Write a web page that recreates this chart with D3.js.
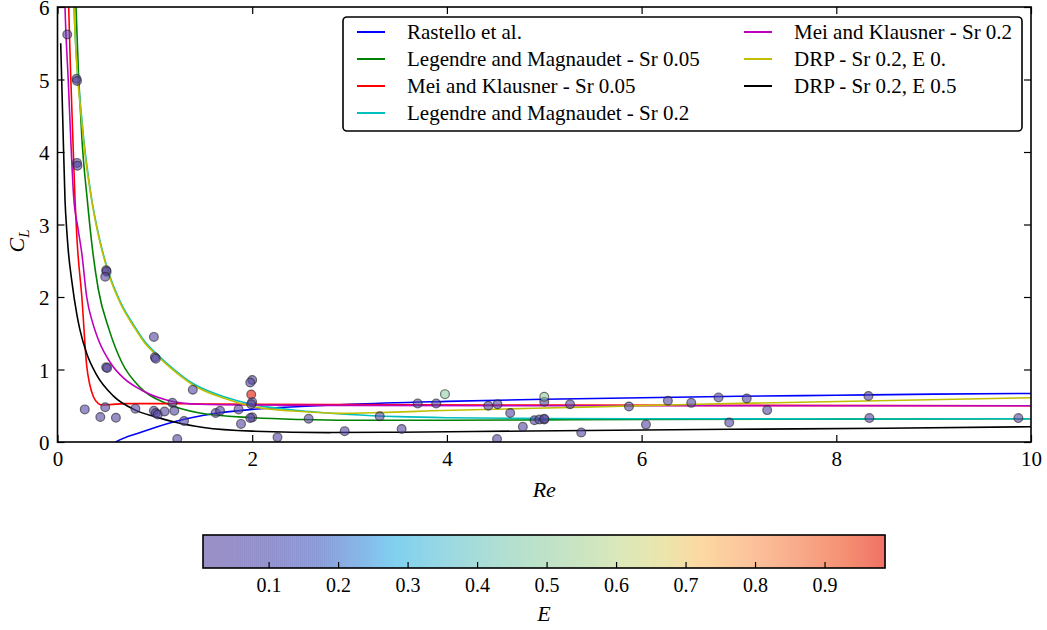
<!DOCTYPE html>
<html>
<head>
<meta charset="utf-8">
<script src="https://cdn.jsdelivr.net/npm/d3@7"></script>
<style>
    body { margin: 0; background: #fff; }
    text { font-family: 'Liberation Serif' !important; }
</style>
</head>
<body>
<div id="chart"></div>
<script>
// measured points: Reynolds number, lift coefficient, E
var ptRe = [0.10, 0.195, 0.20, 0.20, 0.205, 0.50, 0.505, 0.49, 0.99, 1.0, 1.01, 0.50, 0.51, 1.39,
    0.28, 0.49, 0.44, 0.60, 0.80, 0.99, 1.01, 1.03, 1.10, 1.18, 1.20, 1.30, 1.23, 1.625, 1.67,
    1.86, 1.885, 2.00, 1.98, 1.99, 2.00, 1.99, 2.00, 1.98, 2.26, 2.58, 2.95, 3.31, 3.535, 3.70,
    3.89, 3.98, 4.425, 4.52, 4.515, 4.65, 4.78, 4.90, 4.95, 5.00, 5.00, 5.00, 5.00, 5.265, 5.38,
    5.87, 6.045, 6.27, 6.51, 6.79, 6.90, 7.08, 7.29, 8.33, 8.34, 9.87];
var ptCL = [5.62, 5.01, 4.98, 3.85, 3.81, 2.37, 2.35, 2.28, 1.45, 1.17, 1.15, 1.03, 1.02, 0.72,
    0.45, 0.48, 0.345, 0.335, 0.46, 0.43, 0.40, 0.38, 0.42, 0.54, 0.43, 0.29, 0.04, 0.40, 0.43,
    0.45, 0.25, 0.855, 0.82, 0.655, 0.55, 0.52, 0.34, 0.33, 0.065, 0.32, 0.15, 0.355, 0.18, 0.53,
    0.53, 0.66, 0.50, 0.52, 0.04, 0.40, 0.21, 0.30, 0.31, 0.31, 0.32, 0.555, 0.625, 0.52, 0.13,
    0.49, 0.24, 0.57, 0.54, 0.615, 0.27, 0.60, 0.44, 0.635, 0.33, 0.33];
var ptE = [0.02, 0.03, 0.01, 0.02, 0.04, 0.02, 0.03, 0.01, 0.03, 0.02, 0.04, 0.02, 0.03, 0.04,
    0.05, 0.03, 0.02, 0.04, 0.03, 0.02, 0.03, 0.01, 0.04, 0.03, 0.02, 0.05, 0.03, 0.02, 0.04,
    0.03, 0.02, 0.03, 0.02, 0.987, 0.03, 0.02, 0.04, 0.02, 0.03, 0.02, 0.04, 0.03, 0.02, 0.03,
    0.02, 0.49, 0.03, 0.02, 0.04, 0.03, 0.02, 0.03, 0.02, 0.04, 0.03, 0.02, 0.50, 0.03, 0.02,
    0.04, 0.03, 0.02, 0.03, 0.02, 0.04, 0.03, 0.02, 0.03, 0.02, 0.0056];

// model curves
var rastelloRe = [0.45, 0.6, 0.85, 1.2, 1.6, 2.0, 2.5, 3, 4, 5, 6, 7, 8, 9, 10];
var rastelloCL = [-0.15, 0.0, 0.13, 0.28, 0.39, 0.45, 0.49, 0.52, 0.56, 0.59, 0.61, 0.63, 0.645, 0.66, 0.67];
var legendre05Re = [0.17, 0.19, 0.25, 0.306, 0.36, 0.42, 0.53, 0.66, 0.85, 1.12, 1.46, 2.0, 2.5, 3, 4, 5, 6, 8, 10];
var legendre05CL = [7.0, 6.0, 4.2, 3.34, 2.65, 2.1, 1.55, 1.1, 0.75, 0.53, 0.40, 0.335, 0.31, 0.30, 0.30, 0.305, 0.31, 0.315, 0.32];
var mei05Re = [0.10, 0.115, 0.137, 0.155, 0.18, 0.20, 0.25, 0.30, 0.33, 0.37, 0.42, 0.46, 0.54, 0.7, 1, 1.5, 2, 3, 5, 7, 10];
var mei05CL = [7.0, 6.0, 5.0, 4.3, 3.34, 2.8, 2.0, 1.05, 0.8, 0.62, 0.53, 0.51, 0.515, 0.53, 0.53, 0.525, 0.52, 0.515, 0.51, 0.505, 0.50];
var legendre2Re = [0.15, 0.17, 0.25, 0.35, 0.42, 0.53, 0.65, 0.78, 0.9, 1.0, 1.12, 1.4, 1.72, 2.0, 2.5, 3.0, 3.5, 4, 5, 6, 8, 10];
var legendre2CL = [7.0, 6.0, 4.45, 3.36, 2.87, 2.32, 1.92, 1.62, 1.38, 1.24, 1.09, 0.80, 0.62, 0.52, 0.43, 0.38, 0.35, 0.335, 0.325, 0.32, 0.318, 0.32];
var mei2Re = [0.06, 0.077, 0.11, 0.142, 0.165, 0.21, 0.25, 0.30, 0.36, 0.42, 0.55, 0.68, 0.87, 1.12, 1.46, 2, 3, 5, 10];
var mei2CL = [7.0, 6.0, 5.0, 4.0, 3.4, 2.95, 2.6, 2.0, 1.65, 1.41, 1.08, 0.88, 0.71, 0.58, 0.52, 0.51, 0.505, 0.50, 0.50];
var drp0Re = [0.15, 0.17, 0.25, 0.35, 0.42, 0.53, 0.65, 0.78, 0.9, 1.0, 1.12, 1.4, 1.72, 2.0, 2.5, 2.9, 3.3, 3.85, 4.9, 6.9, 10];
var drp0CL = [7.0, 6.0, 4.4, 3.34, 2.85, 2.3, 1.9, 1.6, 1.36, 1.22, 1.07, 0.78, 0.6, 0.49, 0.42, 0.395, 0.405, 0.43, 0.465, 0.53, 0.61];
var drp5Re = [0.033, 0.053, 0.077, 0.095, 0.11, 0.146, 0.2, 0.23, 0.3, 0.4, 0.57, 0.8, 1.0, 1.2, 1.5, 2.0, 2.8, 3.5, 4.85, 6.9, 8.5, 10];
var drp5CL = [5.5, 4.5, 3.34, 2.92, 2.65, 2.23, 1.75, 1.55, 1.22, 0.93, 0.64, 0.44, 0.35, 0.275, 0.2, 0.15, 0.13, 0.135, 0.152, 0.175, 0.19, 0.21];

var curveNames = ["Rastello et al.", "Legendre and Magnaudet - Sr 0.05", "Mei and Klausner - Sr 0.05",
    "Legendre and Magnaudet - Sr 0.2", "Mei and Klausner - Sr 0.2", "DRP - Sr 0.2, E 0.", "DRP - Sr 0.2, E 0.5"];
var curveColors = ["#0000ff", "#008000", "#ff0000", "#00bfbf", "#bf00bf", "#bfbf00", "#000000"];

var xTicks = [0, 2, 4, 6, 8, 10];
var yTicks = [0, 1, 2, 3, 4, 5, 6];
var cbTicks = [0.1, 0.2, 0.3, 0.4, 0.5, 0.6, 0.7, 0.8, 0.9];

// colormap stops (fraction of E range -> base colour)
var cmapPos = [0, 0.1, 0.17, 0.25, 0.28, 0.35, 0.45, 0.55, 0.62, 0.68, 0.73, 0.8, 0.88, 0.95, 1.0];
var cmapCol = ["rgb(88,68,160)", "rgb(70,70,170)", "rgb(60,87,190)", "rgb(53,150,223)", "rgb(43,177,230)",
    "rgb(83,190,210)", "rgb(130,203,177)", "rgb(163,210,150)", "rgb(197,217,130)", "rgb(223,210,110)",
    "rgb(250,190,97)", "rgb(250,157,90)", "rgb(243,110,57)", "rgb(237,63,17)", "rgb(230,17,0)"];

var FONT = "Liberation Serif";

function init() {
    var w = 1047;
    var h = 630;
    var left = 57.5, right = 1031, top = 7, bottom = 442;

    var svg = d3.select("#chart").append("svg").attr("width", w).attr("height", h)
        .attr("font-family", FONT);

    var xScale = d3.scaleLinear().domain([0, 10]).range([left, right]);
    var yScale = d3.scaleLinear().domain([0, 6]).range([bottom, top]);

    var eExt = d3.extent(ptE);
    var cmap = d3.scaleLinear().domain(cmapPos).range(cmapCol).interpolate(d3.interpolateRgb).clamp(true);
    function colorE(e) {
        return cmap((e - eExt[0]) / (eExt[1] - eExt[0]));
    }

    svg.append("clipPath").attr("id", "plotclip")
        .append("rect").attr("x", left).attr("y", top)
        .attr("width", right - left).attr("height", bottom - top);

    // curves
    var curves = [
        [rastelloRe, rastelloCL], [legendre05Re, legendre05CL], [mei05Re, mei05CL],
        [legendre2Re, legendre2CL], [mei2Re, mei2CL], [drp0Re, drp0CL], [drp5Re, drp5CL]
    ];
    var line = d3.line()
        .x(function(d) { return xScale(d[0]); })
        .y(function(d) { return yScale(d[1]); })
        .curve(d3.curveMonotoneX);

    var lineG = svg.append("g").attr("clip-path", "url(#plotclip)");
    curves.forEach(function(c, i) {
        var pts = c[0].map(function(re, j) { return [re, c[1][j]]; });
        lineG.append("path").datum(pts)
            .attr("d", line)
            .attr("fill", "none")
            .attr("stroke", curveColors[i])
            .attr("stroke-width", 1.6);
    });

    // scatter
    var dots = ptRe.map(function(re, i) { return { re: re, cl: ptCL[i], e: ptE[i] }; });
    svg.append("g").attr("clip-path", "url(#plotclip)")
        .selectAll("circle").data(dots).enter().append("circle")
        .attr("cx", function(d) { return xScale(d.re); })
        .attr("cy", function(d) { return yScale(d.cl); })
        .attr("r", 4.4)
        .attr("fill", function(d) { return colorE(d.e); })
        .attr("fill-opacity", 0.6)
        .attr("stroke", "#222")
        .attr("stroke-opacity", 0.6)
        .attr("stroke-width", 1.2);

    // axes, ticks inside on all sides
    var xAxis = d3.axisBottom(xScale).tickValues(xTicks).tickSize(-7).tickPadding(9)
        .tickFormat(d3.format("d"));
    var yAxis = d3.axisLeft(yScale).tickValues(yTicks).tickSize(-7).tickPadding(8)
        .tickFormat(d3.format("d"));

    var gx = svg.append("g").attr("transform", "translate(0," + bottom + ")").call(xAxis);
    var gy = svg.append("g").attr("transform", "translate(" + left + ",0)").call(yAxis);
    var gxt = svg.append("g").attr("transform", "translate(0," + top + ")")
        .call(d3.axisTop(xScale).tickValues(xTicks).tickSize(-7).tickFormat(""));
    var gyr = svg.append("g").attr("transform", "translate(" + right + ",0)")
        .call(d3.axisRight(yScale).tickValues(yTicks).tickSize(-7).tickFormat(""));

    [gx, gy, gxt, gyr].forEach(function(g) {
        g.attr("font-family", FONT);
        g.select(".domain").remove();
        g.selectAll(".tick line").attr("stroke", "#000").attr("stroke-width", 1.2);
        g.selectAll("text").attr("font-family", FONT)
            .attr("font-size", 21).attr("fill", "#000");
    });
    gy.selectAll("text").attr("dy", "0.36em");

    svg.append("rect")
        .attr("x", left).attr("y", top)
        .attr("width", right - left).attr("height", bottom - top)
        .attr("fill", "none").attr("stroke", "#000").attr("stroke-width", 1.6);

    // axis labels
    svg.append("text")
        .attr("x", (left + right) / 2).attr("y", 497)
        .attr("text-anchor", "middle")
        .attr("font-family", FONT).attr("font-size", 22).attr("font-style", "italic")
        .text("Re");

    var yl = svg.append("text")
        .attr("transform", "translate(24,241) rotate(-90)")
        .attr("text-anchor", "middle")
        .attr("font-family", FONT).attr("font-size", 22).attr("font-style", "italic");
    yl.append("tspan").text("C");
    yl.append("tspan").attr("font-size", 15).attr("dy", 5).text("L");

    // legend
    var lg = svg.append("g");
    lg.append("rect")
        .attr("x", 343).attr("y", 17).attr("width", 679).attr("height", 114).attr("rx", 4)
        .attr("fill", "#fff").attr("stroke", "#000").attr("stroke-width", 1.6);
    curveNames.forEach(function(name, i) {
        var col = i < 4 ? 0 : 1;
        var row = i < 4 ? i : i - 4;
        var lx = col === 0 ? 357 : 744;
        var ty = 32 + row * 27;
        lg.append("line")
            .attr("x1", lx).attr("x2", lx + 28).attr("y1", ty).attr("y2", ty)
            .attr("stroke", curveColors[i]).attr("stroke-width", 2);
        lg.append("text")
            .attr("x", lx + 50).attr("y", ty).attr("dy", "0.34em")
            .attr("font-family", FONT).attr("font-size", 21)
            .text(name);
    });

    // colorbar
    var cbLeft = 203, cbRight = 885, cbTop = 535, cbBottom = 568;
    var cbScale = d3.scaleLinear().domain(eExt).range([cbLeft, cbRight]);
    var nStrip = 340;
    var stripW = (cbRight - cbLeft) / nStrip;
    var white = d3.rgb(255, 255, 255);
    var cb = svg.append("g");
    cb.selectAll("rect.strip").data(d3.range(nStrip)).enter().append("rect")
        .attr("class", "strip")
        .attr("x", function(i) { return cbLeft + i * stripW; })
        .attr("y", cbTop)
        .attr("width", stripW + 0.5)
        .attr("height", cbBottom - cbTop)
        .attr("fill", function(i) {
            var e = cbScale.invert(cbLeft + (i + 0.5) * stripW);
            return d3.interpolateRgb(white, colorE(e))(0.6);
        });
    cb.append("rect")
        .attr("x", cbLeft).attr("y", cbTop)
        .attr("width", cbRight - cbLeft).attr("height", cbBottom - cbTop)
        .attr("fill", "none").attr("stroke", "#000").attr("stroke-width", 1.6);
    var cbAxis = d3.axisBottom(cbScale).tickValues(cbTicks).tickSize(-6).tickPadding(10)
        .tickFormat(d3.format(".1f"));
    var gcb = svg.append("g").attr("transform", "translate(0," + cbBottom + ")").call(cbAxis);
    gcb.attr("font-family", FONT);
    gcb.select(".domain").remove();
    gcb.selectAll(".tick line").attr("stroke", "#000").attr("stroke-width", 1.2);
    gcb.selectAll("text").attr("font-family", FONT)
        .attr("font-size", 20).attr("fill", "#000");

    svg.append("text")
        .attr("x", (cbLeft + cbRight) / 2).attr("y", 621)
        .attr("text-anchor", "middle")
        .attr("font-family", FONT).attr("font-size", 22).attr("font-style", "italic")
        .text("E");
}

window.onload = init;
</script>
</body>
</html>
